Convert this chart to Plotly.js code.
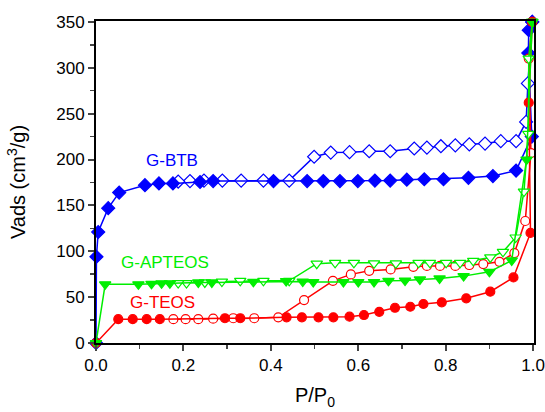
<!DOCTYPE html>
<html><head><meta charset="utf-8">
<script src="https://cdn.plot.ly/plotly-3.0.1.min.js"></script>
<style>html,body{margin:0;padding:0;background:#fff}#c{width:545px;height:412px}</style>
</head><body><div id="c"></div>
<script>
const btbAdsX = [0, 0.001, 0.005, 0.028, 0.053, 0.112, 0.144, 0.176, 0.238, 0.268, 0.406, 0.483, 0.520, 0.558, 0.599, 0.638, 0.673, 0.711, 0.751, 0.795, 0.852, 0.908, 0.961, 0.997, 0.989, 0.990, 0.998];
const btbAdsY = [0, 94, 121, 147, 164, 172, 174, 174, 175.5, 176.5, 176.5, 176.5, 176.5, 176.5, 176.5, 177, 177, 178, 178.5, 178.5, 180, 182, 188, 225, 316, 341, 350];
const btbDesX = [0.998, 0.988, 0.984, 0.961, 0.926, 0.890, 0.854, 0.822, 0.789, 0.757, 0.728, 0.673, 0.625, 0.580, 0.537, 0.499, 0.442, 0.383, 0.332, 0.289, 0.247, 0.215, 0.188];
const btbDesY = [350, 283, 241, 220, 220, 217.4, 216.6, 215.5, 214.5, 213, 212, 209, 209, 208, 207.6, 203, 177, 177, 177, 177, 177, 176.5, 176];

const apAdsX = [0, 0.021, 0.097, 0.127, 0.150, 0.169, 0.234, 0.265, 0.360, 0.435, 0.473, 0.497, 0.566, 0.600, 0.636, 0.669, 0.707, 0.741, 0.786, 0.841, 0.900, 0.951, 0.985, 0.998];
const apAdsY = [0, 64, 64, 64.5, 65, 65, 66, 66, 66.7, 67.5, 67, 66.5, 66.5, 66.5, 66.5, 67.8, 68, 69.3, 70.4, 72.9, 77.6, 90, 200, 350];
const apDesX = [0.998, 0.990, 0.989, 0.979, 0.960, 0.931, 0.902, 0.863, 0.833, 0.801, 0.764, 0.738, 0.686, 0.636, 0.590, 0.547, 0.505, 0.442, 0.383, 0.330, 0.288, 0.249, 0.207, 0.188];
const apDesY = [350, 310, 228, 165, 115, 99.4, 93.3, 89.6, 87.4, 87.4, 87.4, 87.4, 86.8, 86.8, 87.4, 87.4, 86.5, 67.8, 67.8, 67.8, 67, 66, 65.3, 65.3];

const teAdsX = [0, 0.051, 0.084, 0.116, 0.146, 0.295, 0.330, 0.436, 0.471, 0.509, 0.543, 0.580, 0.613, 0.648, 0.684, 0.719, 0.749, 0.791, 0.847, 0.902, 0.955, 0.994, 0.990, 0.998];
const teAdsY = [0, 26, 26, 26, 26, 27, 27, 28, 28, 28, 28, 28.7, 30.5, 34, 38.4, 39.5, 42.5, 44.3, 48.7, 55.9, 71.5, 120, 262, 350];
const teDesX = [0.998, 0.990, 0.995, 0.982, 0.957, 0.923, 0.886, 0.854, 0.822, 0.787, 0.757, 0.726, 0.674, 0.625, 0.583, 0.542, 0.476, 0.417, 0.362, 0.314, 0.268, 0.234, 0.205, 0.177];
const teDesY = [350, 310, 207, 133, 98, 88.5, 86, 85, 84, 84, 84, 83, 80.2, 78.7, 74.8, 67.8, 46.8, 28, 27, 27, 26.5, 26, 26, 26];

const labels = ["G-BTB", "G-APTEOS", "G-TEOS"];
const labelX = [0.174, 0.158, 0.153];
const labelY = [199, 88, 44.6];

const BLUE = "#0000ff", GREEN = "#00ee00", RED = "#ff0000";
function tr(x, y, color, sym, size, open) {
  return {x: x, y: y, type: "scatter", mode: "lines+markers",
    line: {color: color, width: 1.5},
    marker: {symbol: sym, size: size, color: open ? "#ffffff" : color,
             line: {color: color, width: 1.2}},
    showlegend: false, cliponaxis: false};
}
const data = [
  tr(btbDesX, btbDesY, BLUE, "diamond", 10, true),
  tr(btbAdsX, btbAdsY, BLUE, "diamond", 10, false),
  tr(teDesX, teDesY, RED, "circle", 9, true),
  tr(teAdsX, teAdsY, RED, "circle", 9, false),
  tr(apDesX, apDesY, GREEN, "triangle-down", 10, true),
  tr(apAdsX, apAdsY, GREEN, "triangle-down", 10, false)
];
const colors = [BLUE, GREEN, RED];
const layout = {
  width: 545, height: 412,
  margin: {l: 96, r: 11, t: 21, b: 69},
  paper_bgcolor: "#fff", plot_bgcolor: "#fff",
  font: {family: "Liberation Sans, Arial, sans-serif", color: "#000", size: 17},
  xaxis: {range: [0, 1.002], tickvals: [0, 0.2, 0.4, 0.6, 0.8, 1.0], ticktext: ["0.0", "0.2", "0.4", "0.6", "0.8", "1.0"],
    ticks: "outside", ticklen: 6, tickwidth: 2,
    minor: {tickvals: [0.1, 0.3, 0.5, 0.7, 0.9], ticks: "outside", ticklen: 4, tickwidth: 1.5},
    showline: true, linewidth: 2, linecolor: "#000", mirror: true, showgrid: false, zeroline: false,
    tickfont: {size: 17}, title: {text: "P/P<sub>0</sub>", font: {size: 20}, standoff: 14}},
  yaxis: {range: [0, 351], dtick: 50, ticks: "outside", ticklen: 6, tickwidth: 2,
    minor: {dtick: 25, ticks: "outside", ticklen: 4, tickwidth: 1.5},
    showline: true, linewidth: 2, linecolor: "#000", mirror: true, showgrid: false, zeroline: false,
    tickfont: {size: 17}, title: {text: "Vads (cm<sup>3</sup>/g)", font: {size: 20}, standoff: 25}},
  annotations: labels.map((t, i) => ({x: labelX[i], y: labelY[i], text: t, showarrow: false,
    font: {size: 17, color: colors[i]}, xanchor: "center", yanchor: "middle"}))
};
Plotly.newPlot("c", data, layout, {displayModeBar: false, staticPlot: true});
</script></body></html>
